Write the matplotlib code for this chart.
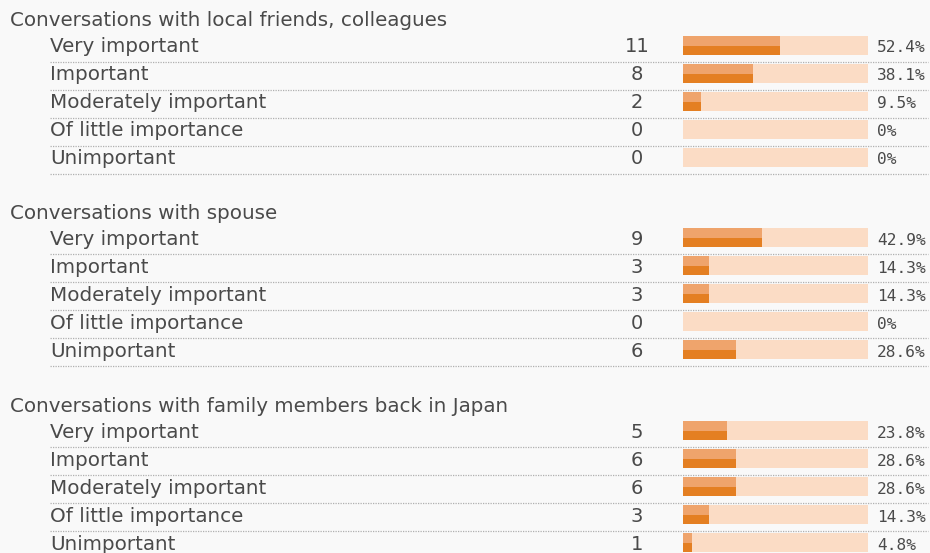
import matplotlib.pyplot as plt

# %% data
groups = ["Conversations with local friends, colleagues",
          "Conversations with spouse",
          "Conversations with family members back in Japan"]
levels = ["Very important", "Important", "Moderately important",
          "Of little importance", "Unimportant"]

counts_friends = [11, 8, 2, 0, 0]
pct_friends = [52.4, 38.1, 9.5, 0, 0]
counts_spouse = [9, 3, 3, 0, 6]
pct_spouse = [42.9, 14.3, 14.3, 0, 28.6]
counts_family = [5, 6, 6, 3, 1]
pct_family = [23.8, 28.6, 28.6, 14.3, 4.8]

counts = [counts_friends, counts_spouse, counts_family]
pcts = [pct_friends, pct_spouse, pct_family]

# %% layout (pixel units)
bar_left, bar_len, bar_h = 683, 185, 19
txt = '#4a4a4a'
font = 'DejaVu Sans'

fig = plt.figure(figsize=(9.3, 5.53), dpi=100)
fig.patch.set_facecolor('#f9f9f9')
ax = fig.add_axes([0, 0, 1, 1])
ax.set_facecolor('#f9f9f9')
ax.set_xlim(0, 930)
ax.set_ylim(553, 0)
ax.axis('off')

for g, title in enumerate(groups):
    top = 20 + 192.5 * g
    ax.text(10, top + 1, title, fontsize=14.3, family=font, color=txt,
            va='center')
    ys = [top + 25 + 28 * i for i in range(len(levels))]
    w = [p / 100 * bar_len for p in pcts[g]]

    ax.barh(ys, bar_len, left=bar_left, height=bar_h, color='#fbdcc5')
    ax.barh(ys, w, left=bar_left, height=bar_h, color='#e47f22')
    ax.barh([y - bar_h / 2 + 5 for y in ys], w, left=bar_left, height=10,
            color='#efa46c')

    for y, lab, c, p in zip(ys, levels, counts[g], pcts[g]):
        ax.text(50, y + 2, lab, fontsize=14.3, family=font, color=txt,
                va='center')
        ax.text(637, y + 2, str(c), fontsize=14, family=font, color=txt,
                va='center', ha='center')
        ax.text(877, y + 3, f"{p:g}%", fontsize=11.6, family='DejaVu Sans Mono',
                color=txt, va='center')
        ax.plot([50, 928], [y + 16.5, y + 16.5], color='#b0b0b0', lw=0.9,
                ls=(0, (1, 1)))

fig.savefig('out.png', dpi=100, facecolor=fig.get_facecolor())
